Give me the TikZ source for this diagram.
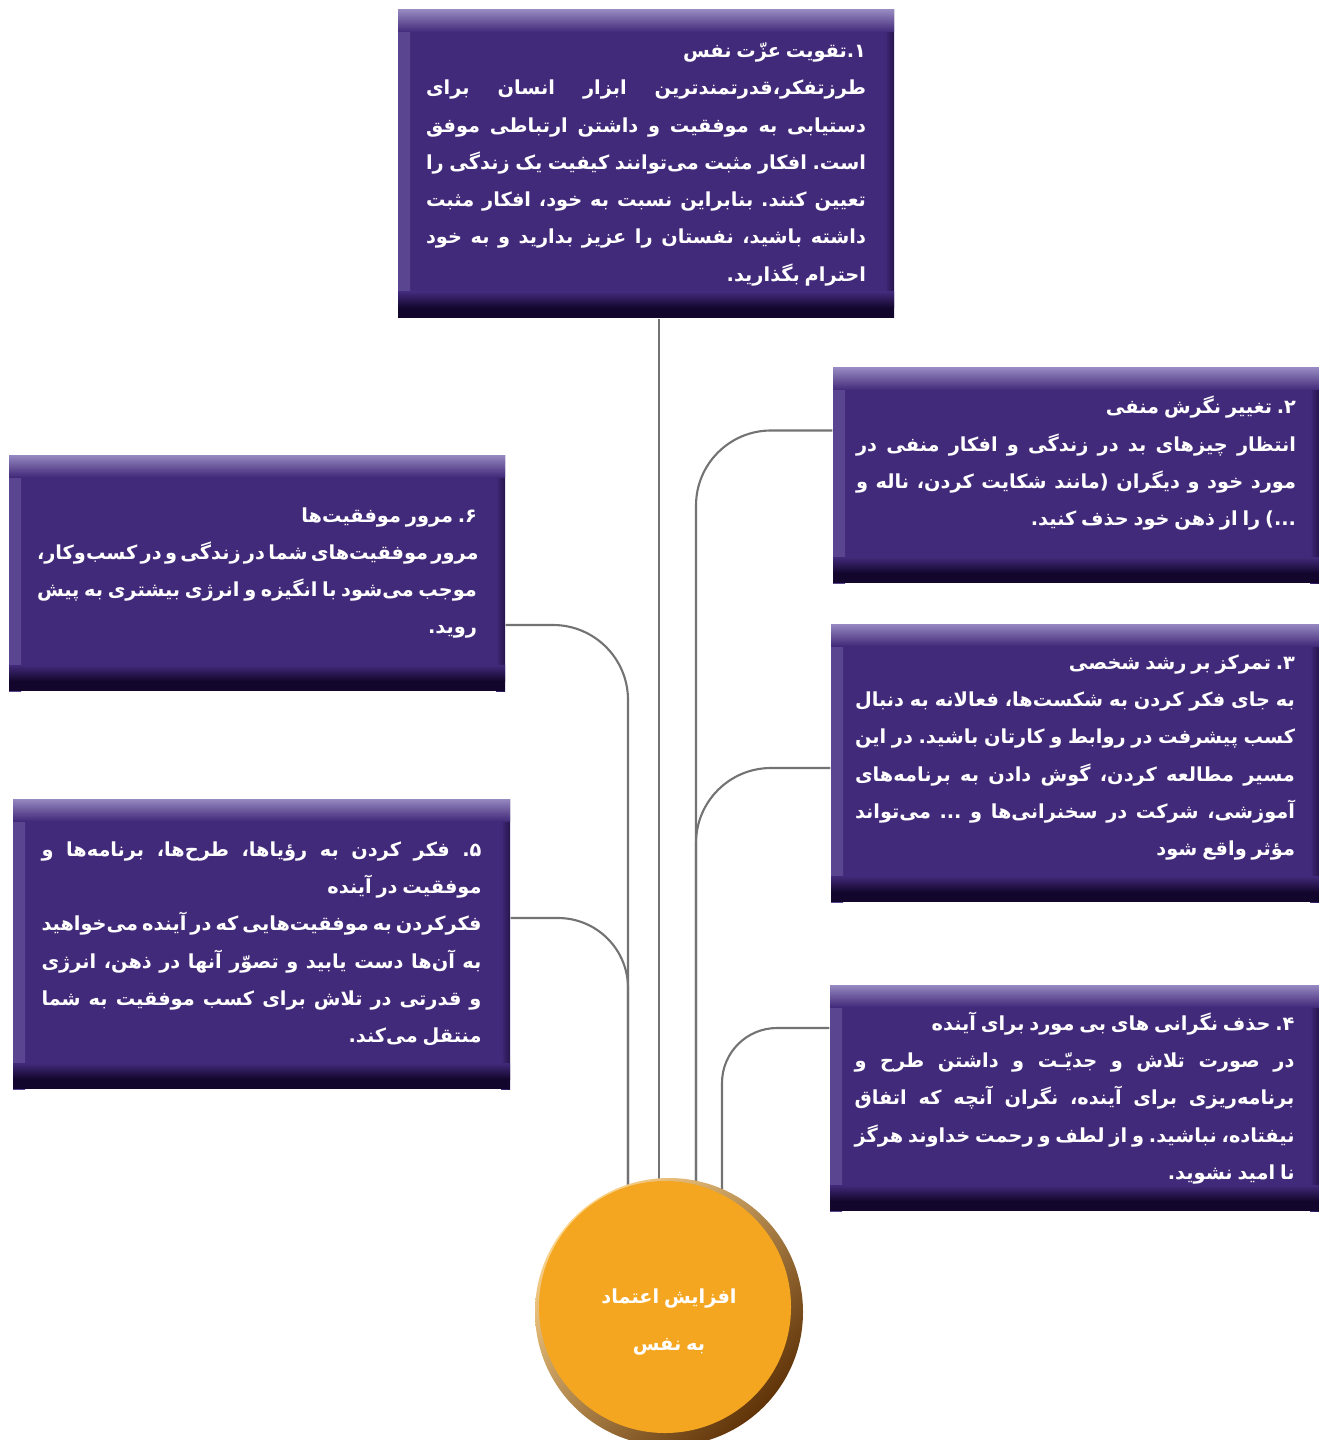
\documentclass[tikz,border=0pt]{standalone}
\TeXXeTstate=1
\usepackage{fontspec}
\usepackage{xcolor}
\usepackage{tikz}
\usetikzlibrary{backgrounds}
\newfontfamily\fafont[Script=Arabic]{DejaVu Sans}
\definecolor{cardpurple}{RGB}{66,42,122}
\definecolor{cardtop}{RGB}{150,136,192}
\definecolor{cardleft}{RGB}{90,70,144}
\definecolor{carddark}{RGB}{18,6,44}
\definecolor{coreorange}{RGB}{245,166,32}
\definecolor{corelight}{RGB}{252,212,140}
\definecolor{coredark}{RGB}{96,52,8}
\definecolor{linkgrey}{RGB}{115,115,115}
\newcommand{\fasp}{\hskip 0.25em plus 1fil minus 0.08em}
\newcommand{\fagap}{\hskip 0.25em}
\ExplSyntaxOn
\seq_new:N \l_fa_words_seq
\cs_new_protected:Npn \fa_spaced:nn #1 #2
	{
		\seq_set_split:Nnn \l_fa_words_seq { ~ } { #2 }
		\seq_remove_all:Nn \l_fa_words_seq { }
		\seq_use:Nn \l_fa_words_seq { #1 }
	}
\NewDocumentCommand \faline { m } { \hbox_to_wd:nn { \linewidth } { \fa_spaced:nn { \fasp } { #1 } } }
\NewDocumentCommand \falast { m } { \hbox_to_wd:nn { \linewidth } { \hfil \fa_spaced:nn { \fagap } { #1 } } }
\NewDocumentCommand \fawords { m } { \fa_spaced:nn { \fagap } { #1 } }
\ExplSyntaxOff
\tikzset{
	card/.style={fill=cardpurple, text=white, inner sep=0pt, text width=44mm,
		font=\fafont\bfseries\fontsize{5.5pt}{10.6pt}\selectfont,
		path picture={
			\shade[left color=cardleft, right color=cardpurple] (path picture bounding box.north west) rectangle ([xshift=1.2mm]path picture bounding box.south west);
			\shade[left color=cardpurple, right color=carddark!60!cardpurple] ([xshift=-0.9mm]path picture bounding box.north east) rectangle (path picture bounding box.south east);
			\shade[top color=cardtop, bottom color=cardpurple] (path picture bounding box.north west) rectangle ([yshift=-2.2mm]path picture bounding box.north east);
			\shade[top color=cardpurple, bottom color=carddark] ([yshift=2.6mm]path picture bounding box.south west) rectangle ([yshift=1mm]path picture bounding box.south east);
			\fill[carddark] ([yshift=1mm]path picture bounding box.south west) rectangle (path picture bounding box.south east);
		}},
	core/.style={circle, minimum size=26.8mm, inner sep=0pt, text=white, align=center,
		text height=23.7pt, text depth=1.6pt,
		font=\fafont\bfseries\fontsize{5.5pt}{13.4pt}\selectfont,
		path picture={
			\shade[top color=corelight, bottom color=coredark, shading angle=45] (path picture bounding box.south west) rectangle (path picture bounding box.north east);
			\fill[coreorange] ([xshift=-0.4mm,yshift=0.5mm]path picture bounding box.center) circle (12.6mm);
		}},
	link/.style={draw=linkgrey, line width=0.6pt}
}
\begin{document}
\begin{tikzpicture}[x=0.1mm, y=-0.1mm]
	\useasboundingbox (0,0) rectangle (1319,1440);
	
	\node (box1) at (646,164) [card, minimum width=49.6mm, minimum height=30.8mm] {%
		\falast{\beginR ۱.تقویت عزّت نفس\endR}
		\faline{\beginR طرزتفکر،قدرتمندترین ابزار انسان برای\endR}
		\faline{\beginR دستیابی به موفقیت و داشتن ارتباطی موفق\endR}
		\faline{\beginR است. افکار مثبت می^^^^200cتوانند کیفیت یک زندگی را\endR}
		\faline{\beginR تعیین کنند. بنابراین نسبت به خود، افکار مثبت\endR}
		\faline{\beginR داشته باشید، نفستان را عزیز بدارید و به خود\endR}
		\falast{\beginR احترام بگذارید.\endR}};
	\node (box2) at (1076,475.5) [card, minimum width=48.6mm, minimum height=21.5mm, text depth=40pt] {%
		\falast{\beginR ^^^^200f۲. تغییر نگرش منفی\endR}
		\faline{\beginR انتظار چیزهای بد در زندگی و افکار منفی در\endR}
		\faline{\beginR مورد خود و دیگران (مانند شکایت کردن، ناله و\endR}
		\falast{\beginR ^^^^200f...) را از ذهن خود حذف کنید.\endR}};
	\node (box3) at (1075,763) [card, minimum width=48.8mm, minimum height=27.8mm, text depth=57.4pt] {%
		\falast{\beginR ^^^^200f۳. تمرکز بر رشد شخصی\endR}
		\faline{\beginR به جای فکر کردن به شکست^^^^200cها، فعالانه به دنبال\endR}
		\faline{\beginR کسب پیشرفت در روابط و کارتان باشید. در این\endR}
		\faline{\beginR مسیر مطالعه کردن، گوش دادن به برنامه^^^^200cهای\endR}
		\faline{\beginR آموزشی، شرکت در سخنرانی^^^^200cها و ... می^^^^200cتواند\endR}
		\falast{\beginR مؤثر واقع شود\endR}};
	\node (box4) at (1074.5,1098) [card, minimum width=48.9mm, minimum height=22.6mm] {%
		\falast{\beginR ^^^^200f۴. حذف نگرانی های بی مورد برای آینده\endR}
		\faline{\beginR در صورت تلاش و جدیّـت و داشتن طرح و\endR}
		\faline{\beginR برنامه^^^^200cریزی برای آینده، نگران آنچه که اتفاق\endR}
		\faline{\beginR نیفتاده، نباشید. و از لطف و رحمت خداوند هرگز\endR}
		\falast{\beginR نا امید نشوید.\endR}};
	\node (box6) at (257,573) [card, minimum width=49.6mm, minimum height=23.6mm] {%
		\falast{\beginR ^^^^200f۶. مرور موفقیت^^^^200cها\endR}
		\faline{\beginR مرور موفقیت^^^^200cهای شما در زندگی و در کسب^^^^200cوکار،\endR}
		\faline{\beginR موجب می^^^^200cشود با انگیزه و انرژی بیشتری به پیش\endR}
		\falast{\beginR روید.\endR}};
	\node (box5) at (261.5,944) [card, minimum width=49.7mm, minimum height=29mm] {%
		\faline{\beginR ^^^^200f۵. فکر کردن به رؤیاها، طرح^^^^200cها، برنامه^^^^200cها و\endR}
		\falast{\beginR موفقیت در آینده\endR}
		\faline{\beginR فکرکردن به موفقیت^^^^200cهایی که در آینده می^^^^200cخواهید\endR}
		\faline{\beginR به آن^^^^200cها دست یابید و تصوّر آنها در ذهن، انرژی\endR}
		\faline{\beginR و قدرتی در تلاش برای کسب موفقیت به شما\endR}
		\falast{\beginR منتقل می^^^^200cکند.\endR}};
	\node (core) at (669,1312) [core] {\fawords{\beginR افزایش اعتماد\endR}\\ \fawords{\beginR به نفس\endR}};
	
	\coordinate (stemA) at ([xshift=-1mm]core.center);
	\coordinate (stemB) at ([xshift=2.7mm]core.center);
	\coordinate (stemC) at ([xshift=5.3mm]core.center);
	\coordinate (stemD) at ([xshift=-4.1mm]core.center);
	
	\begin{scope}[on background layer]
		\draw[link] (stemA |- box1.south) -- (stemA);
		\draw[link, rounded corners=7.5mm] ([yshift=4.5mm]box2.west) -| (stemB);
		\draw[link, rounded corners=7.5mm] ([yshift=-0.5mm]box3.west) -| (stemB);
		\draw[link, rounded corners=5.5mm] ([yshift=7mm]box4.west) -| (stemC);
		\draw[link, rounded corners=7.5mm] ([yshift=-5.2mm]box6.east) -| (stemD);
		\draw[link, rounded corners=7mm] ([yshift=2.6mm]box5.east) -| (stemD);
	\end{scope}
\end{tikzpicture}
\end{document}
